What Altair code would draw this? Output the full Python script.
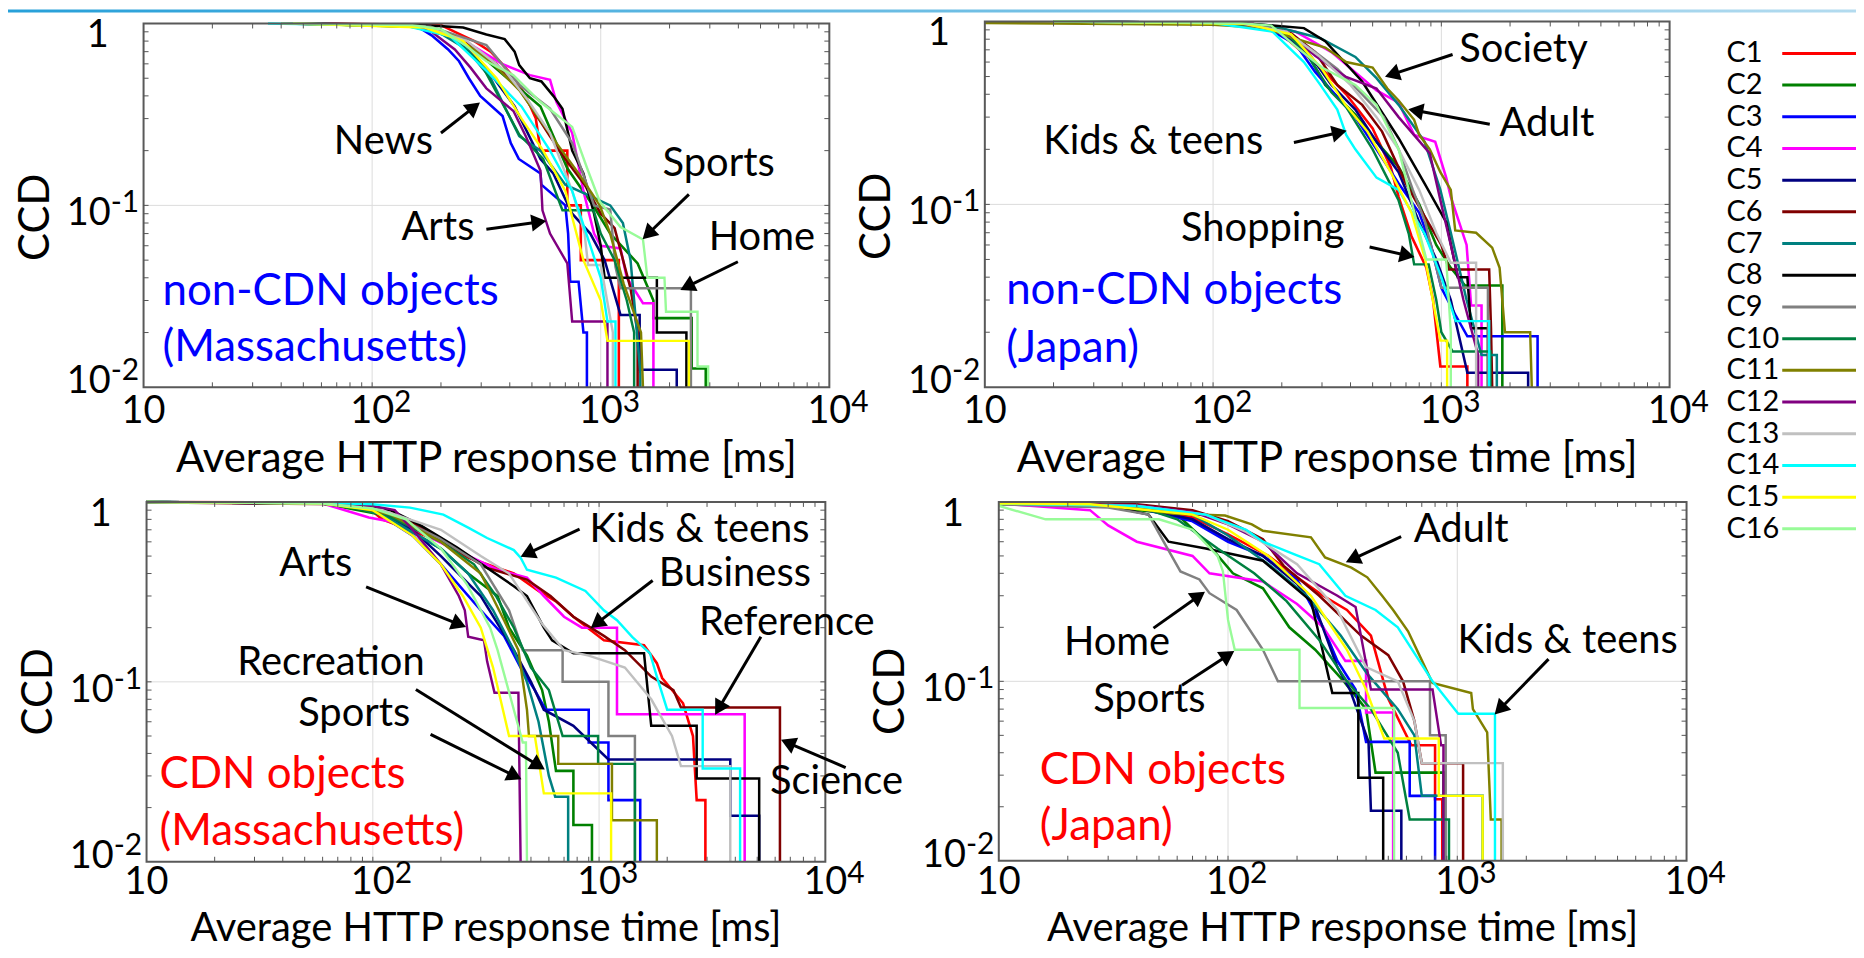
import math
import altair as alt
import pandas as pd

FONT = "Lato"

CATS = ["C1", "C2", "C3", "C4", "C5", "C6", "C7", "C8",
        "C9", "C10", "C11", "C12", "C13", "C14", "C15", "C16"]
COLORS = ["#ff0000", "#008000", "#0000ff", "#ff00ff", "#000080", "#800000",
          "#008080", "#000000", "#808080", "#008040", "#808000", "#800080",
          "#c0c0c0", "#00ffff", "#ffff00", "#98fb98"]
WIDTHS = [2.6, 2.4, 2.0, 2.0, 2.4, 2.4, 2.4, 2.4, 2.4, 2.4, 2.6, 2.4, 1.2, 1.2, 1.2, 2.0]

X_TICKS = [10, 100, 1000, 10000]
X_EXP = ["", "2", "3", "4"]
Y_TICKS = [1, 0.1, 0.01]
Y_BASE = ["1", "10", "10"]
Y_EXP = ["", "-1", "-2"]
X_MINOR = [20, 30, 40, 50, 60, 70, 80, 90, 100, 200, 300, 400, 500, 600, 700, 800, 900,
           1000, 2000, 3000, 4000, 5000, 6000, 7000, 8000, 9000]
Y_MINOR = [0.02, 0.03, 0.04, 0.05, 0.06, 0.07, 0.08, 0.09, 0.1,
           0.2, 0.3, 0.4, 0.5, 0.6, 0.7, 0.8, 0.9]
X_TITLE = "Average HTTP response time [ms]"
Y_TITLE = "CCD"

# ---- non-CDN objects, Massachusetts (response time ms, CCD) ----
TL_CURVES = {
    "C1": [(60, 1), (200, 0.98), (230, 0.9), (280, 0.8), (330, 0.7), (370, 0.6), (420, 0.5), (470, 0.4), (520, 0.3), (545, 0.2), (714, 0.2), (714, 0.1), (818, 0.1), (818, 0.05), (1200, 0.05), (1200, 0.01)],
    "C2": [(45, 1), (160, 0.96), (250, 0.82), (330, 0.6), (430, 0.45), (545, 0.35), (714, 0.16), (935, 0.098), (1100, 0.07), (1450, 0.048), (1700, 0.03), (1700, 0.024), (2500, 0.024), (2500, 0.0127), (2880, 0.0127), (2880, 0.01)],
    "C3": [(40, 1), (120, 0.98), (160, 0.95), (182, 0.86), (215, 0.72), (240, 0.62), (265, 0.5), (297, 0.4), (372, 0.31), (404, 0.22), (438, 0.18), (545, 0.15), (550, 0.13), (700, 0.1), (720, 0.07), (735, 0.038), (800, 0.038), (840, 0.02), (870, 0.02), (870, 0.01)],
    "C4": [(50, 1), (180, 0.97), (255, 0.8), (370, 0.6), (490, 0.52), (600, 0.49), (640, 0.37), (750, 0.25), (840, 0.12), (935, 0.07), (1000, 0.06), (1220, 0.058), (1300, 0.04), (1530, 0.029), (1700, 0.029), (1700, 0.01)],
    "C5": [(50, 1), (170, 0.96), (230, 0.83), (316, 0.57), (420, 0.35), (545, 0.18), (620, 0.15), (750, 0.09), (900, 0.07), (1040, 0.05), (1220, 0.025), (1480, 0.025), (1480, 0.0125), (2150, 0.0125), (2150, 0.01)],
    "C6": [(45, 1), (170, 0.96), (250, 0.8), (350, 0.6), (450, 0.42), (600, 0.24), (700, 0.18), (850, 0.13), (1000, 0.09), (1150, 0.075), (1350, 0.035), (1450, 0.02), (1450, 0.01)],
    "C7": [(45, 1), (150, 0.97), (200, 0.88), (260, 0.72), (330, 0.5), (440, 0.24), (545, 0.2), (700, 0.13), (935, 0.11), (1100, 0.1), (1250, 0.08), (1350, 0.05), (1400, 0.03), (1490, 0.012), (1490, 0.01)],
    "C8": [(50, 1), (165, 0.98), (250, 0.95), (316, 0.87), (380, 0.82), (420, 0.7), (440, 0.59), (490, 0.5), (550, 0.48), (620, 0.4), (680, 0.34), (750, 0.2), (840, 0.15), (935, 0.09), (1000, 0.06), (1040, 0.04), (1760, 0.04), (1760, 0.02), (2370, 0.02), (2370, 0.01)],
    "C9": [(50, 1), (180, 0.96), (316, 0.76), (440, 0.46), (600, 0.34), (750, 0.22), (935, 0.1), (1100, 0.095), (1160, 0.046), (1220, 0.035), (2480, 0.035), (2480, 0.01)],
    "C10": [(45, 1), (150, 0.96), (220, 0.85), (300, 0.6), (440, 0.245), (560, 0.18), (680, 0.094), (930, 0.094), (1000, 0.07), (1150, 0.05), (1300, 0.03), (1400, 0.02), (1400, 0.01)],
    "C11": [(40, 1), (160, 0.97), (230, 0.85), (330, 0.62), (440, 0.43), (640, 0.22), (800, 0.15), (990, 0.1), (1100, 0.07), (1260, 0.037), (1500, 0.02), (1530, 0.01)],
    "C12": [(40, 1), (150, 0.97), (182, 0.9), (230, 0.72), (270, 0.57), (316, 0.44), (415, 0.33), (470, 0.24), (545, 0.155), (556, 0.094), (600, 0.07), (714, 0.048), (750, 0.023), (1070, 0.023), (1070, 0.01)],
    "C13": [(45, 1), (170, 0.96), (260, 0.8), (380, 0.55), (480, 0.38), (600, 0.25), (750, 0.12), (850, 0.07), (880, 0.047), (1000, 0.047), (1130, 0.02), (1130, 0.01)],
    "C14": [(35, 1), (140, 0.97), (220, 0.85), (316, 0.55), (450, 0.35), (600, 0.2), (750, 0.12), (900, 0.06), (1000, 0.04), (1070, 0.023), (1160, 0.023), (1160, 0.01)],
    "C15": [(45, 1), (170, 0.95), (250, 0.8), (350, 0.5), (450, 0.3), (560, 0.2), (700, 0.12), (840, 0.05), (1000, 0.03), (1070, 0.018), (2430, 0.018), (2430, 0.01)],
    "C16": [(40, 1), (150, 0.98), (200, 0.93), (255, 0.76), (316, 0.62), (415, 0.52), (545, 0.37), (750, 0.27), (880, 0.155), (990, 0.105), (1220, 0.076), (1530, 0.065), (1600, 0.04), (1900, 0.04), (1930, 0.026), (2650, 0.026), (2650, 0.013), (2950, 0.013), (2950, 0.01)],
}
TL_NOTES = [("News", 112, 0.223, 200, 0.25, 295, 0.366),
            ("Sports", 3280, 0.168, 2430, 0.115, 1530, 0.0655),
            ("Arts", 194, 0.075, 316, 0.074, 575, 0.082),
            ("Home", 5070, 0.066, 3980, 0.049, 2240, 0.0344)]
TL_CAPTION = ["non-CDN objects", "(Massachusetts)"]
TL_CAPTION_POS = [12.1, 0.0283, 0.0139]

# ---- non-CDN objects, Japan ----
TR_CURVES = {
    "C1": [(20, 1), (80, 0.98), (150, 0.96), (200, 0.85), (295, 0.56), (383, 0.4), (500, 0.26), (600, 0.16), (650, 0.11), (740, 0.067), (860, 0.045), (920, 0.03), (990, 0.013), (1300, 0.013), (1300, 0.01)],
    "C2": [(20, 1), (120, 0.98), (200, 0.9), (250, 0.72), (310, 0.45), (420, 0.31), (520, 0.22), (650, 0.16), (800, 0.1), (950, 0.06), (1100, 0.045), (1270, 0.036), (1850, 0.036), (1850, 0.01)],
    "C3": [(20, 1), (100, 0.98), (170, 0.93), (230, 0.75), (280, 0.53), (330, 0.42), (420, 0.3), (520, 0.2), (650, 0.13), (800, 0.09), (900, 0.06), (1000, 0.035), (1150, 0.025), (1300, 0.019), (2640, 0.019), (2640, 0.01)],
    "C4": [(20, 1), (150, 0.97), (230, 0.88), (330, 0.68), (450, 0.49), (520, 0.42), (650, 0.36), (760, 0.24), (940, 0.22), (1050, 0.14), (1100, 0.11), (1290, 0.06), (1350, 0.028), (1500, 0.028), (1500, 0.01)],
    "C5": [(20, 1), (120, 0.98), (190, 0.9), (260, 0.68), (330, 0.45), (420, 0.33), (520, 0.22), (650, 0.15), (800, 0.08), (950, 0.05), (1100, 0.03), (1300, 0.012), (2400, 0.012), (2400, 0.01)],
    "C6": [(20, 1), (150, 0.97), (220, 0.86), (280, 0.68), (350, 0.45), (450, 0.35), (550, 0.25), (700, 0.13), (850, 0.085), (1000, 0.06), (1080, 0.044), (1620, 0.044), (1650, 0.021), (1670, 0.01)],
    "C7": [(20, 1), (120, 0.98), (180, 0.95), (295, 0.81), (420, 0.64), (520, 0.49), (650, 0.35), (845, 0.22), (990, 0.12), (1100, 0.07), (1290, 0.03), (1500, 0.015), (1750, 0.015), (1750, 0.01)],
    "C8": [(20, 1), (150, 0.97), (250, 0.92), (310, 0.78), (450, 0.47), (650, 0.23), (845, 0.13), (1050, 0.08), (1180, 0.04), (1300, 0.04), (1350, 0.021), (1600, 0.021), (1600, 0.01)],
    "C9": [(20, 1), (120, 0.98), (200, 0.9), (280, 0.68), (350, 0.55), (450, 0.4), (560, 0.3), (650, 0.2), (750, 0.12), (850, 0.08), (1000, 0.035), (1600, 0.035), (1600, 0.01)],
    "C10": [(20, 1), (120, 0.98), (200, 0.9), (250, 0.7), (330, 0.41), (383, 0.34), (500, 0.2), (650, 0.105), (720, 0.069), (760, 0.047), (880, 0.047), (950, 0.03), (1000, 0.02), (1120, 0.0157), (1640, 0.0157), (1640, 0.01)],
    "C11": [(10, 0.98), (20, 0.975), (100, 0.96), (170, 0.92), (226, 0.81), (310, 0.72), (383, 0.6), (500, 0.56), (580, 0.43), (650, 0.37), (760, 0.29), (800, 0.24), (890, 0.2), (990, 0.15), (1100, 0.12), (1150, 0.072), (1420, 0.07), (1670, 0.058), (1800, 0.045), (1900, 0.02), (2450, 0.02), (2490, 0.01)],
    "C12": [(20, 1), (130, 0.98), (210, 0.88), (280, 0.65), (380, 0.5), (520, 0.43), (650, 0.3), (890, 0.19), (1000, 0.1), (1100, 0.06), (1250, 0.03), (1450, 0.015), (1450, 0.01)],
    "C13": [(20, 1), (130, 0.98), (210, 0.88), (290, 0.65), (400, 0.45), (520, 0.3), (650, 0.2), (800, 0.12), (950, 0.07), (1100, 0.048), (1420, 0.048), (1420, 0.01)],
    "C14": [(20, 1), (100, 0.98), (182, 0.88), (250, 0.6), (295, 0.45), (350, 0.33), (383, 0.24), (420, 0.2), (520, 0.14), (650, 0.12), (845, 0.069), (1000, 0.04), (1156, 0.023), (1620, 0.023), (1620, 0.01)],
    "C15": [(20, 1), (140, 0.97), (220, 0.85), (300, 0.55), (380, 0.35), (475, 0.25), (600, 0.15), (740, 0.09), (850, 0.05), (990, 0.018), (1060, 0.018), (1060, 0.01)],
    "C16": [(20, 1), (130, 0.98), (180, 0.95), (240, 0.7), (300, 0.56), (420, 0.45), (520, 0.35), (650, 0.2), (780, 0.08), (860, 0.05), (1050, 0.05), (1100, 0.02), (1100, 0.01)],
}
TR_NOTES = [("Society", 2290, 0.70, 1120, 0.66, 569, 0.50),
            ("Adult", 2900, 0.274, 1630, 0.274, 720, 0.331),
            ("Kids & teens", 54.7, 0.218, 226, 0.218, 383, 0.252),
            ("Shopping", 165, 0.0736, 485, 0.0585, 759, 0.0516)]
TR_CAPTION = ["non-CDN objects", "(Japan)"]
TR_CAPTION_POS = [12.4, 0.0285, 0.0138]

# ---- CDN objects, Massachusetts ----
BL_CURVES = {
    "C1": [(10, 1), (90, 0.99), (110, 0.8), (146, 0.7), (200, 0.6), (264, 0.49), (356, 0.43), (420, 0.4), (540, 0.32), (645, 0.28), (770, 0.23), (1050, 0.17), (1580, 0.16), (1800, 0.127), (1900, 0.105), (2350, 0.076), (2600, 0.05), (2700, 0.022), (2950, 0.022), (2950, 0.01)],
    "C2": [(10, 1), (60, 0.98), (110, 0.85), (200, 0.55), (264, 0.4), (356, 0.3), (400, 0.2), (480, 0.14), (560, 0.09), (600, 0.06), (645, 0.032), (770, 0.032), (770, 0.016), (930, 0.016), (930, 0.01)],
    "C3": [(10, 1), (60, 0.98), (100, 0.9), (150, 0.65), (200, 0.45), (300, 0.25), (380, 0.18), (450, 0.12), (520, 0.09), (580, 0.07), (900, 0.07), (900, 0.046), (1100, 0.046), (1100, 0.022), (1520, 0.022), (1520, 0.01)],
    "C4": [(10, 1), (60, 0.98), (96, 0.82), (140, 0.75), (196, 0.6), (356, 0.42), (480, 0.38), (570, 0.3), (700, 0.23), (840, 0.2), (1200, 0.2), (1200, 0.066), (4400, 0.066), (4400, 0.01)],
    "C5": [(10, 1), (60, 0.98), (100, 0.9), (150, 0.7), (200, 0.5), (300, 0.3), (420, 0.15), (500, 0.1), (570, 0.07), (770, 0.057), (1100, 0.037), (3800, 0.037), (3800, 0.018), (5100, 0.018), (5100, 0.01)],
    "C6": [(10, 1), (15, 0.99), (80, 0.97), (120, 0.9), (170, 0.7), (235, 0.54), (320, 0.43), (480, 0.37), (610, 0.3), (770, 0.23), (1050, 0.18), (1300, 0.15), (1700, 0.107), (2130, 0.09), (2300, 0.072), (6300, 0.072), (6300, 0.01)],
    "C7": [(10, 1), (70, 0.98), (110, 0.85), (200, 0.55), (264, 0.4), (340, 0.25), (420, 0.15), (480, 0.1), (540, 0.06), (600, 0.03), (640, 0.023), (730, 0.023), (730, 0.01)],
    "C8": [(10, 1), (70, 0.98), (120, 0.9), (160, 0.75), (235, 0.56), (420, 0.34), (480, 0.3), (570, 0.2), (620, 0.17), (770, 0.144), (1580, 0.144), (1700, 0.057), (2700, 0.057), (2700, 0.029), (5100, 0.029), (5100, 0.01)],
    "C9": [(10, 1), (70, 0.98), (110, 0.9), (196, 0.63), (300, 0.45), (400, 0.25), (460, 0.15), (690, 0.15), (690, 0.1), (1100, 0.1), (1100, 0.05), (1440, 0.05), (1440, 0.01)],
    "C10": [(10, 1), (60, 0.98), (110, 0.87), (200, 0.6), (280, 0.45), (350, 0.3), (420, 0.2), (500, 0.12), (600, 0.09), (690, 0.05), (990, 0.05), (990, 0.035), (1440, 0.035), (1440, 0.01)],
    "C11": [(10, 1), (70, 0.98), (120, 0.85), (200, 0.6), (300, 0.4), (380, 0.22), (440, 0.15), (480, 0.07), (490, 0.05), (660, 0.05), (660, 0.035), (1140, 0.035), (1140, 0.017), (1800, 0.017), (1800, 0.01)],
    "C12": [(10, 1), (60, 0.98), (100, 0.95), (125, 0.9), (150, 0.7), (200, 0.45), (240, 0.3), (255, 0.25), (264, 0.178), (310, 0.17), (320, 0.13), (345, 0.087), (440, 0.087), (450, 0.01)],
    "C13": [(10, 1), (60, 0.98), (110, 0.9), (200, 0.7), (300, 0.5), (400, 0.4), (560, 0.21), (700, 0.15), (900, 0.14), (1300, 0.12), (1700, 0.08), (2100, 0.05), (2300, 0.034), (3800, 0.034), (3800, 0.01)],
    "C14": [(10, 1), (60, 0.99), (100, 0.97), (146, 0.93), (205, 0.85), (264, 0.72), (320, 0.63), (420, 0.54), (450, 0.49), (480, 0.42), (645, 0.38), (870, 0.32), (1050, 0.25), (1200, 0.22), (1400, 0.178), (1680, 0.144), (1800, 0.107), (2000, 0.07), (2870, 0.07), (2870, 0.033), (4200, 0.033), (4200, 0.01)],
    "C15": [(10, 1), (60, 0.98), (100, 0.9), (150, 0.65), (200, 0.45), (250, 0.3), (300, 0.2), (340, 0.12), (400, 0.05), (520, 0.05), (570, 0.024), (1130, 0.024), (1130, 0.01)],
    "C16": [(10, 1), (60, 0.98), (100, 0.92), (140, 0.8), (200, 0.55), (260, 0.35), (330, 0.2), (356, 0.15), (420, 0.07), (460, 0.046), (475, 0.046), (480, 0.01)],
}
BL_NOTES = [("Kids & teens", 2780, 0.698, 820, 0.706, 452, 0.497),
            ("Business", 3980, 0.395, 1725, 0.366, 923, 0.2),
            ("Reference", 6760, 0.213, 5190, 0.178, 3265, 0.066),
            ("Science", 11200, 0.0277, 12300, 0.0334, 6400, 0.0475),
            ("Arts", 56, 0.453, 93.4, 0.337, 257, 0.202),
            ("Recreation", 65.3, 0.128, 155, 0.0906, 573, 0.0327),
            ("Sports", 82.8, 0.066, 180, 0.051, 452, 0.0288)]
BL_CAPTION = ["CDN objects", "(Massachusetts)"]
BL_CAPTION_POS = [11.4, 0.0258, 0.0124]

# ---- CDN objects, Japan ----
BR_CURVES = {
    "C1": [(10, 0.98), (40, 0.95), (70, 0.82), (100, 0.66), (150, 0.5), (200, 0.38), (260, 0.3), (330, 0.25), (420, 0.18), (500, 0.08), (630, 0.044), (800, 0.044), (800, 0.022), (860, 0.022), (860, 0.01)],
    "C2": [(10, 0.97), (30, 0.94), (60, 0.85), (80, 0.6), (105, 0.4), (142, 0.33), (185, 0.2), (240, 0.15), (320, 0.1), (400, 0.07), (440, 0.031), (870, 0.031), (870, 0.01)],
    "C3": [(10, 0.98), (40, 0.93), (70, 0.78), (100, 0.6), (142, 0.5), (200, 0.37), (260, 0.2), (300, 0.13), (360, 0.09), (400, 0.046), (620, 0.046), (620, 0.023), (800, 0.023), (800, 0.01)],
    "C4": [(10, 0.98), (25, 0.9), (30, 0.74), (40, 0.6), (70, 0.5), (83, 0.4), (142, 0.36), (200, 0.27), (260, 0.2), (325, 0.13), (400, 0.13), (400, 0.067), (525, 0.067), (525, 0.01)],
    "C5": [(10, 0.98), (40, 0.93), (70, 0.8), (100, 0.62), (142, 0.5), (200, 0.35), (240, 0.26), (300, 0.12), (340, 0.09), (410, 0.046), (420, 0.019), (570, 0.019), (570, 0.01)],
    "C6": [(10, 0.99), (40, 0.97), (70, 0.9), (100, 0.78), (142, 0.62), (175, 0.44), (250, 0.3), (380, 0.18), (500, 0.14), (580, 0.1), (650, 0.06), (700, 0.035), (1060, 0.035), (1060, 0.01)],
    "C7": [(10, 0.98), (40, 0.95), (70, 0.85), (100, 0.65), (150, 0.45), (220, 0.3), (310, 0.18), (405, 0.11), (550, 0.07), (650, 0.05), (700, 0.023), (1290, 0.023), (1290, 0.01)],
    "C8": [(10, 0.98), (30, 0.95), (45, 0.85), (55, 0.6), (80, 0.55), (142, 0.47), (230, 0.28), (245, 0.2), (285, 0.086), (370, 0.086), (370, 0.029), (475, 0.029), (475, 0.01)],
    "C9": [(10, 0.97), (30, 0.93), (45, 0.85), (54, 0.56), (62, 0.41), (75, 0.37), (83, 0.31), (109, 0.25), (142, 0.15), (165, 0.1), (760, 0.1), (760, 0.05), (890, 0.05), (890, 0.01)],
    "C10": [(10, 0.98), (40, 0.95), (60, 0.8), (90, 0.55), (130, 0.4), (180, 0.28), (250, 0.17), (330, 0.1), (420, 0.07), (550, 0.04), (620, 0.017), (920, 0.017), (920, 0.01)],
    "C11": [(10, 0.99), (30, 0.97), (58, 0.86), (97, 0.84), (127, 0.75), (142, 0.69), (230, 0.635), (265, 0.49), (345, 0.43), (405, 0.38), (470, 0.3), (525, 0.25), (610, 0.19), (683, 0.14), (780, 0.098), (1150, 0.086), (1170, 0.07), (1350, 0.052), (1400, 0.017), (1560, 0.017), (1560, 0.01)],
    "C12": [(10, 0.99), (40, 0.96), (70, 0.88), (100, 0.75), (142, 0.6), (200, 0.4), (300, 0.3), (360, 0.26), (420, 0.09), (780, 0.09), (850, 0.044), (870, 0.044), (870, 0.01)],
    "C13": [(10, 0.98), (40, 0.95), (80, 0.85), (120, 0.68), (200, 0.45), (300, 0.25), (400, 0.12), (550, 0.1), (650, 0.06), (700, 0.035), (1580, 0.035), (1580, 0.01)],
    "C14": [(10, 0.98), (40, 0.95), (80, 0.85), (120, 0.7), (142, 0.6), (195, 0.51), (250, 0.45), (325, 0.3), (440, 0.25), (550, 0.2), (683, 0.13), (780, 0.1), (1010, 0.066), (1460, 0.066), (1460, 0.01)],
    "C15": [(10, 0.98), (25, 0.97), (70, 0.85), (100, 0.7), (150, 0.5), (230, 0.3), (330, 0.15), (400, 0.09), (480, 0.048), (830, 0.048), (830, 0.023), (1290, 0.023), (1290, 0.01)],
    "C16": [(10, 0.95), (16, 0.8), (50, 0.8), (70, 0.7), (90, 0.5), (95, 0.41), (100, 0.22), (107, 0.15), (205, 0.15), (205, 0.071), (530, 0.071), (530, 0.01)],
}
BR_NOTES = [("Adult", 1040, 0.697, 569, 0.64, 328, 0.462),
            ("Kids & teens", 3030, 0.167, 2500, 0.133, 1460, 0.0656),
            ("Home", 32.8, 0.163, 47.3, 0.198, 79, 0.315),
            ("Sports", 45.4, 0.079, 63, 0.095, 106, 0.147)]
BR_CAPTION = ["CDN objects", "(Japan)"]
BR_CAPTION_POS = [15.1, 0.0268, 0.0131]

COLOR = alt.Color("cat:N", scale=alt.Scale(domain=CATS, range=COLORS), legend=None)
SWIDTH = alt.StrokeWidth("cat:N", scale=alt.Scale(domain=CATS, range=WIDTHS), legend=None)


def panel_layers(curves, notes, caption, cap_color, cap_pos, x0, y0, W, H,
                 title_dy, title_size, label_dy, ccd_dy):
    xs = alt.Scale(type="log", domain=[10, 10000], range=[x0, x0 + W], nice=False)
    ys = alt.Scale(type="log", domain=[0.01, 1], range=[y0 + H, y0], nice=False)

    def X(f):
        return alt.X(f, type="quantitative", scale=xs, axis=None)

    def Y(f):
        return alt.Y(f, type="quantitative", scale=ys, axis=None)

    rows = []
    for cat, pts in curves.items():
        for i, (x, y) in enumerate(pts):
            rows.append({"cat": cat, "x": x, "y": y, "i": i})
    df = pd.DataFrame(rows)
    L = []
    L.append(alt.Chart(pd.DataFrame({"v": [100, 1000]})).mark_rule(color="#dcdcdc", strokeWidth=1).encode(
        x=X("v"), y=alt.value(y0), y2=alt.value(y0 + H)))
    L.append(alt.Chart(pd.DataFrame({"v": [0.1]})).mark_rule(color="#dcdcdc", strokeWidth=1).encode(
        y=Y("v"), x=alt.value(x0), x2=alt.value(x0 + W)))
    L.append(alt.Chart(df).mark_line().encode(x=X("x"), y=Y("y"), color=COLOR, strokeWidth=SWIDTH, order="i:Q"))
    # frame
    L.append(alt.Chart(pd.DataFrame({"a": [10], "b": [10000], "c": [0.01], "d": [1]})).mark_rect(
        fillOpacity=0, stroke="#595959", strokeWidth=2).encode(
        x=X("a"), x2=alt.X2("b"), y=Y("c"), y2=alt.Y2("d")))
    xm = pd.DataFrame({"v": X_MINOR})
    ym = pd.DataFrame({"v": Y_MINOR})
    tk = dict(color="#555555", strokeWidth=1)
    L.append(alt.Chart(xm).mark_rule(**tk).encode(x=X("v"), y=alt.value(y0 + H), y2=alt.value(y0 + H - 5)))
    L.append(alt.Chart(xm).mark_rule(**tk).encode(x=X("v"), y=alt.value(y0), y2=alt.value(y0 + 5)))
    L.append(alt.Chart(ym).mark_rule(**tk).encode(y=Y("v"), x=alt.value(x0), x2=alt.value(x0 + 5)))
    L.append(alt.Chart(ym).mark_rule(**tk).encode(y=Y("v"), x=alt.value(x0 + W), x2=alt.value(x0 + W - 5)))
    # x tick labels
    xl = pd.DataFrame({"v": X_TICKS, "b": ["10"] * len(X_TICKS), "e": X_EXP})
    L.append(alt.Chart(xl).mark_text(font=FONT, fontSize=38, align="center", baseline="alphabetic").encode(
        x=X("v"), y=alt.value(y0 + H + label_dy), text="b:N"))
    L.append(alt.Chart(xl).mark_text(font=FONT, fontSize=30, align="left", baseline="alphabetic", dx=22).encode(
        x=X("v"), y=alt.value(y0 + H + label_dy - 11), text="e:N"))
    # y tick labels
    y_dy = [24, 20, 6]
    for v, b, e, d in zip(Y_TICKS, Y_BASE, Y_EXP, y_dy):
        one = pd.DataFrame({"v": [v], "b": [b], "e": [e]})
        bx = x0 - 35 if e == "" else x0 - 33
        L.append(alt.Chart(one).mark_text(font=FONT, fontSize=38, align="right", baseline="alphabetic", dy=d).encode(
            x=alt.value(bx), y=Y("v"), text="b:N"))
        if e:
            L.append(alt.Chart(one).mark_text(font=FONT, fontSize=30, align="left", baseline="alphabetic", dy=d - 13).encode(
                x=alt.value(x0 - 33), y=Y("v"), text="e:N"))
    # axis titles
    L.append(alt.Chart(pd.DataFrame({"t": [X_TITLE]})).mark_text(
        font=FONT, fontSize=title_size, align="center", baseline="alphabetic").encode(
        x=alt.value(x0 + W / 2), y=alt.value(y0 + H + title_dy), text="t:N"))
    L.append(alt.Chart(pd.DataFrame({"t": [Y_TITLE]})).mark_text(
        font=FONT, fontSize=42, align="center", baseline="middle", angle=270).encode(
        x=alt.value(x0 - 108), y=alt.value(y0 + H / 2 + ccd_dy), text="t:N"))
    # annotations with arrows
    nrows = []
    for (t, tx, ty, fx, fy, px, py) in notes:
        dx = (math.log10(px) - math.log10(fx)) / 3 * W
        dy = -(math.log10(py) - math.log10(fy)) / 2 * H
        ln = math.hypot(dx, dy)
        ux, uy = dx / ln, dy / ln
        back = 7
        cx = 10 ** (math.log10(px) - ux * back / W * 3)
        cy = 10 ** (math.log10(py) + uy * back / H * 2)
        ang = math.degrees(math.atan2(dx, -dy)) % 360
        nrows.append({"t": t, "tx": tx, "ty": ty, "fx": fx, "fy": fy, "cx": cx, "cy": cy, "ang": ang})
    nd = pd.DataFrame(nrows)
    L.append(alt.Chart(nd).mark_text(font=FONT, fontSize=40, align="center", baseline="middle", color="black").encode(
        x=X("tx"), y=Y("ty"), text="t:N"))
    L.append(alt.Chart(nd).mark_rule(color="black", strokeWidth=3).encode(
        x=X("fx"), y=Y("fy"), x2=alt.X2("cx"), y2=alt.Y2("cy")))
    L.append(alt.Chart(nd).mark_point(shape="triangle-up", filled=True, size=300, color="black", opacity=1).encode(
        x=X("cx"), y=Y("cy"), angle=alt.Angle("ang:Q", scale=None)))
    # caption
    cd = pd.DataFrame({"t": caption, "x": [cap_pos[0]] * 2, "y": cap_pos[1:]})
    L.append(alt.Chart(cd).mark_text(font=FONT, fontSize=44, align="left", baseline="alphabetic", color=cap_color).encode(
        x=X("x"), y=Y("y"), text="t:N"))
    return L


layers = []
# slide header stripe
grad = alt.LinearGradient(gradient="linear", x1=0, x2=1, y1=0, y2=0,
                          stops=[alt.GradientStop(color="#27a0d9", offset=0),
                                 alt.GradientStop(color="#b3dbef", offset=1)])
layers.append(alt.Chart(pd.DataFrame({"a": [0]})).mark_rect(color=grad).encode(
    x=alt.value(0), x2=alt.value(1854), y=alt.value(0), y2=alt.value(3)))

layers += panel_layers(TL_CURVES, TL_NOTES, TL_CAPTION, "#0000ff", TL_CAPTION_POS, 136, 14, 688, 365, 85, 42, 36, 12)
layers += panel_layers(TR_CURVES, TR_NOTES, TR_CAPTION, "#0000ff", TR_CAPTION_POS, 980, 12, 687, 367, 85, 42, 36, 12)
layers += panel_layers(BL_CURVES, BL_NOTES, BL_CAPTION, "#ff0000", BL_CAPTION_POS, 139, 494, 681, 361, 80, 40, 32, 10)
layers += panel_layers(BR_CURVES, BR_NOTES, BR_CAPTION, "#ff0000", BR_CAPTION_POS, 994, 494, 690, 360, 81, 40, 33, 10)

# legend
ld = pd.DataFrame({"cat": CATS})
ly = alt.Y("cat:N", scale=alt.Scale(type="point", domain=CATS, range=[44, 521], padding=0), axis=None)
layers.append(alt.Chart(ld).mark_text(font=FONT, fontSize=29, align="left", baseline="middle", color="black").encode(
    x=alt.value(1724), y=ly, text="cat:N"))
layers.append(alt.Chart(ld).mark_rule(strokeWidth=3).encode(
    x=alt.value(1780), x2=alt.value(1854), y=ly, color=COLOR))

chart = alt.layer(*layers).resolve_scale(x="independent", y="independent").properties(
    width=1854, height=942,
    autosize=alt.AutoSizeParams(type="none"),
    padding={"left": 0, "top": 0, "right": 0, "bottom": 0},
).configure_view(stroke=None)

chart.save("out.html", embed_options={"renderer": "svg", "actions": False})
